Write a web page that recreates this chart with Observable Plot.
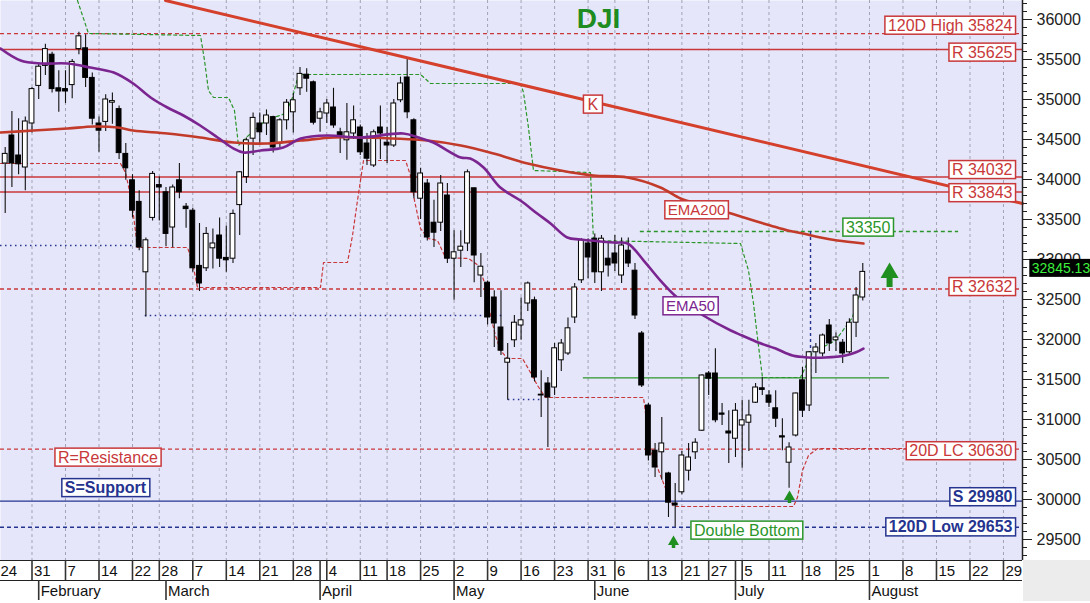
<!DOCTYPE html>
<html>
<head>
<meta charset="utf-8">
<script src="https://cdn.jsdelivr.net/npm/d3@7"></script>
<script src="https://cdn.jsdelivr.net/npm/@observablehq/plot@0.6"></script>
<style>
  html, body { margin: 0; padding: 0; background: #ffffff; }
  #chart svg { display: block; }
</style>
</head>
<body>
<div id="chart"></div>
<script>
// ================= DATA =================
// trading-day index: 0 = Mon Jan 24 2022; candles start at index 1
const firstIndex = 1;
const opens = [
34200,34550,34300,34150,34700,35170,35420,35560,35140,35130,
35180,35630,35640,35270,34700,34720,34960,34880,34320,33990,
33720,32840,33520,33930,33840,33400,33990,33660,33610,32920,
32890,33140,33300,33020,33010,33680,34030,34510,34700,34700,
34780,34450,34740,34840,35140,35310,35215,34760,34825,34900,
34590,34490,34575,34650,34450,34175,34650,34460,34425,34990,
35275,34740,33760,33950,33460,33460,33800,33010,33110,33200,
33890,32800,32710,32525,32150,31710,31990,32175,32450,32490,
31310,31450,31400,31740,31825,32275,32740,33200,33260,32840,
33010,33075,32800,33110,32860,32075,31175,30610,30590,30325,
29950,30090,30360,30590,30860,31575,31575,31075,30850,30760,
30925,30960,31210,31390,31300,31140,30790,30460,30800,31490,
31175,31840,31825,32175,31990,31960,31840,32210,32525];
const highs = [
34400,34850,34760,34780,35150,35450,35690,35590,35360,35360,
35500,35840,35810,35330,34780,35060,35080,34920,34450,34060,
33860,33270,34100,34030,33900,33930,34200,33700,33640,33450,
33400,33380,33520,33420,33620,34100,34520,34830,34830,34870,
34790,34760,35000,35075,35400,35385,35230,34890,35000,35140,
34640,34950,34920,34680,34575,34620,34920,34650,35000,35280,
35510,34760,34140,34000,33740,34050,33950,33360,33360,34120,
33890,33075,32730,32610,32610,31950,32300,32520,32720,32530,
31610,31525,31950,32000,32270,32700,33260,33260,33320,33300,
33220,33300,33270,33270,32950,32100,31200,30700,31025,30340,
30200,30600,30700,30760,31560,31600,31885,31200,31110,31200,
31240,31240,31450,31525,31360,31360,31010,30710,31330,31650,
31850,31950,32070,32250,32080,32000,32260,32650,32950];
const lows = [
33575,33900,34060,33860,34580,35000,35300,35080,34840,34950,
35010,35560,35150,34680,34340,34600,34690,34250,33990,33520,
33110,32280,33480,33480,33160,33150,33760,33390,32840,32600,
32850,32880,32900,32840,32950,33300,33950,34300,34450,34550,
34330,34400,34620,34580,35050,35090,34680,34590,34700,34640,
34325,34240,34500,34300,34175,34150,34250,34200,34400,34960,
34760,33760,33500,33230,33150,33350,32950,32490,32900,33100,
32710,32525,32180,31900,31800,31240,31900,31990,32350,31470,
31025,30650,31300,31600,31800,32200,32700,32760,32700,32600,
32780,32850,32700,32900,32250,31400,30480,30275,30240,29775,
29653,30060,30230,30500,30850,31300,30960,30925,30450,30525,
30390,30600,31200,31300,31150,30900,30610,30140,30780,31025,
31100,31575,31780,31850,31850,31700,31800,32025,32480];
const closes = [
34320,34200,34190,34725,35130,35410,35630,35130,35100,35100,
35470,35790,35270,34760,34610,35000,34980,34330,34140,33610,
33150,33240,34070,33900,33320,33900,33840,33630,32890,32700,
33320,33200,33010,32990,33570,34090,34490,34770,34590,34800,
34400,34740,34960,34990,35320,35260,34710,34840,34950,34675,
34550,34590,34740,34340,34260,34590,34575,34425,34950,35200,
34840,33840,34075,33275,33335,33950,33010,33090,33160,34090,
33050,32910,32275,32200,31860,31760,32210,32240,32700,31525,
31300,31275,31890,31950,32140,32650,33240,33025,32840,33260,
32925,32950,33175,32950,32300,31425,30550,30400,30700,29960,
29925,30550,30525,30710,31550,31510,30990,31060,30825,31110,
30990,31050,31400,31370,31210,31010,30775,30650,31325,31110,
31840,31900,32050,31950,32025,31825,32210,32550,32845.13];
const lastClose = closes[closes.length - 1];

// weekly date ticks (trading-day index) and their labels
const tickIdx = [0,5,10,15,20,24,29,34,39,44,49,54,58,63,68,73,78,83,88,92,97,102,106,111,115,120,125,130,135,140,145,150];
const tickLabels = ["24","31","7","14","22","28","7","14","21","28","4","11","18","25","2","9","16","23","31","6","13","21","27","5","11","18","25","1","8","15","22","29"];
const monthIdx = [6,25,48,68,89,110,130];
const monthNames = ["February","March","April","May","June","July","August"];
const monthBreakIdx = [48,110];

// moving averages
const ema50Idx = [0.3,3.3,6.3,10.3,13.7,17.2,20.1,22.7,25.2,27.6,30.1,32.7,35.1,36.6,39.1,42.5,45.1,49.1,54.0,60.4,62.7,64.9,69.0,70.4,72.4,74.9,77.9,80.4,82.4,84.9,86.9,91.8,93.9,96.3,98.8,101.3,105.2,109.3,111.0,113.4,116.0,118.5,120.9,123.4,126.4,127.9,129.1];
const ema50Val = [35637,35487,35450,35450,35400,35337,35200,35025,34900,34800,34675,34525,34387,34337,34362,34400,34512,34550,34525,34575,34525,34462,34275,34262,34150,33900,33737,33575,33450,33275,33250,33212,33200,32987,32737,32525,32300,32112,32050,31962,31887,31800,31775,31775,31800,31837,31887];
const ema200Idx = [0.3,5.2,10.3,14.2,17.8,20.1,25.2,30.1,35.1,40.1,45.1,50.0,54.0,64.0,69.0,73.9,79.0,83.9,88.8,93.9,98.8,101.8,104.5,107.8,110.3,112.7,115.2,117.8,120.1,122.7,125.2,129.1];
const ema200Val = [34587,34612,34637,34662,34650,34612,34575,34525,34462,34450,34487,34525,34525,34487,34425,34325,34200,34112,34050,34025,33900,33762,33690,33612,33550,33487,33425,33362,33325,33275,33237,33200];

// trend line "K"
const trendIdx = [24.93,152.84];
const trendVal = [36237.5,33700];

// 20-day high channel (green dashed) and low channel (red dashed)
const upperIdx = [11.79,13.43,30.15,30.75,31.34,32.09,34.33,35.22,35.82,37.31,39.85,42.84,43.88,44.78,62.99,64.48,77.91,78.36,79.10,79.85,88.36,88.81,110.75,111.94,112.69,113.28,114.03,119.70,121.49,124.93,127.46,128.96];
const upperVal = [36237.5,35825,35800,35487.5,35112.5,35025,35025,34862.5,34425,34550,34737.5,34825,35025,35312.5,35312.5,35200,35200,35087.5,34650,34112.5,34087.5,33237.5,33200,32862.5,32450,32025,31525,31525,31837.5,31987.5,32275,32700];
const lowerIdx = [0.30,18.21,18.96,19.70,20.15,20.75,28.21,28.96,29.70,48.06,48.51,52.09,52.84,53.58,54.48,60.75,61.49,62.09,62.99,64.18,65.52,66.72,70.15,71.64,72.69,73.43,74.18,74.93,75.97,78.21,79.40,80.45,81.64,96.27,96.72,97.16,98.06,99.10,100.00,100.75,118.66,119.25,120.00,120.90,122.24,135.67];
const lowerVal = [34200,34200,34087.5,33800,33550,33150,33150,32962.5,32650,32650,32962.5,32962.5,33300,33737.5,34237.5,34237.5,34050,33737.5,33387.5,33262.5,33237.5,33025,33012.5,32925,32675,32300,32050,31862.5,31762.5,31762.5,31587.5,31425,31275,31275,30987.5,30650,30462.5,30237.5,30050,29912.5,29912.5,30025,30362.5,30550,30637.5,30637.5];

// horizontal levels
const levelValues = [35824,35625,34032,33843,32632,30630,29980,29653];
const levelTexts = ["120D High 35824","R 35625","R 34032","R 33843","R 32632","20D LC 30630","S 29980","120D Low 29653"];
const levelKinds = ["R-dash","R","R","R","R-dash","R-dash","S","S-dash"];

// dotted lows
const dottedLowVal = [33175,32300,31250];
const dottedLowFrom = [0.3,21.9,76.1];
const dottedLowTo = [20.4,75.4,80.9];

// breakout line, target line and target marker
const breakoutLevel = 31520, breakoutFrom = 87.3, breakoutTo = 133.0;
const targetLevel = 33350, targetFrom = 95.8, targetTo = 143.3, targetIdx = 121.2;

// arrows (index, head value, base value)
const arrowIdx = [133.0,100.75,118.06];
const arrowTop = [32832.5,29471,30034];
const arrowBase = [32650,29387.5,29950];

// annotation texts and anchor points
const noteTexts = ["K","EMA200","EMA50","33350","Double Bottom","R=Resistance","S=Support"];
const noteIdx = [88.7,104.2,103.3,129.8,111.7,16.34,15.97];
const noteVal = [34937.5,33612.5,32412.5,33400,29612.5,30525,30143.75];
const title = "DJI";
const titleIdx = 89.55, titleVal = 36000;

// ================= BUILD =================
const FONT = "'Liberation Sans', Arial, Helvetica, sans-serif";
const RED = "#c8383a", BLUE = "#25348f", GREEN = "#2a962a", PURPLE = "#7b2590";
const X0 = 0.2985, X1 = 152.84, Y0 = 29237.5, Y1 = 36237.5;
const PX = (Y1 - Y0) / 560;           // value units per pixel (y)
const XP = (X1 - X0) / 1022;          // index units per pixel (x)

const candles = opens.map((o, k) => ({i: k + firstIndex, open: o, high: highs[k], low: lows[k], close: closes[k]}));
const ups = candles.filter(d => d.close >= d.open);
const downs = candles.filter(d => d.close < d.open);
const pts = (xs, ys) => xs.map((x, k) => ({i: x, v: ys[k]}));
const ema50 = pts(ema50Idx, ema50Val), ema200 = pts(ema200Idx, ema200Val);
const trend = pts(trendIdx, trendVal), upper = pts(upperIdx, upperVal), lower = pts(lowerIdx, lowerVal);
const levels = levelValues.map((v, k) => ({v, text: levelTexts[k], kind: levelKinds[k]}));
const dotted = dottedLowVal.map((v, k) => ({v, a: dottedLowFrom[k], b: dottedLowTo[k]}));
const ticks = tickIdx.map((i, k) => ({i, t: tickLabels[k]}));
const months = monthIdx.map((i, k) => ({i, t: monthNames[k]}));
const arrows = arrowIdx.map((i, k) => ({i, top: arrowTop[k], base: arrowBase[k]}));
const notes = noteTexts.map((t, k) => ({t, i: noteIdx[k], v: noteVal[k]}));

const labelX = 151.34;
const labelDy = {"120D High 35824": -8, "R 35625": 3, "R 34032": -7, "R 33843": 1, "R 32632": -2, "20D LC 30630": 2, "S 29980": -4, "120D Low 29653": 0};
const noteStyle = {
  "K": {fill: RED, size: 16, weight: "normal"},
  "EMA200": {fill: RED, size: 15, weight: "normal"},
  "EMA50": {fill: PURPLE, size: 15, weight: "normal"},
  "33350": {fill: GREEN, size: 16, weight: "normal"},
  "Double Bottom": {fill: GREEN, size: 16, weight: "normal"},
  "R=Resistance": {fill: RED, size: 16, weight: "normal"},
  "S=Support": {fill: BLUE, size: 16, weight: "bold"}
};

const yDayTop = Y0, yDayBot = Y0 - 20 * PX, yMonBot = Y0 - 40 * PX;

const marks = [
  Plot.frame({fill: "#e6e6fa", stroke: "none"}),
  Plot.ruleX(tickIdx, {stroke: "#a2a2b4", strokeDasharray: "3,3", strokeWidth: 1}),
  // horizontal levels
  Plot.ruleY(levels.filter(d => d.kind === "R"), {y: "v", stroke: RED, strokeWidth: 1.4}),
  Plot.ruleY(levels.filter(d => d.kind === "R-dash"), {y: "v", stroke: RED, strokeWidth: 1.4, strokeDasharray: "4,3"}),
  Plot.ruleY(levels.filter(d => d.kind === "S"), {y: "v", stroke: BLUE, strokeWidth: 1.4}),
  Plot.ruleY(levels.filter(d => d.kind === "S-dash"), {y: "v", stroke: BLUE, strokeWidth: 1.4, strokeDasharray: "4,3"}),
  Plot.ruleY(dotted, {y: "v", x1: "a", x2: "b", stroke: BLUE, strokeWidth: 1.5, strokeDasharray: "1.5,3.5"}),
  // channels
  Plot.line(upper, {x: "i", y: "v", stroke: GREEN, strokeWidth: 1.2, strokeDasharray: "3,3"}),
  Plot.line(lower, {x: "i", y: "v", stroke: RED, strokeWidth: 1.2, strokeDasharray: "3,3"}),
  // breakout / target
  Plot.ruleY([{v: breakoutLevel, a: breakoutFrom, b: breakoutTo}], {y: "v", x1: "a", x2: "b", stroke: GREEN, strokeWidth: 1.4}),
  Plot.ruleY([{v: targetLevel, a: targetFrom, b: targetTo}], {y: "v", x1: "a", x2: "b", stroke: GREEN, strokeWidth: 1.3, strokeDasharray: "4,3"}),
  Plot.ruleX([{i: targetIdx, a: targetLevel, b: breakoutLevel}], {x: "i", y1: "a", y2: "b", stroke: BLUE, strokeWidth: 1.4, strokeDasharray: "3,3"}),
  // candles
  Plot.ruleX(candles, {x: "i", y1: "low", y2: "high", stroke: "#111", strokeWidth: 1.1}),
  Plot.rect(ups, {x1: d => d.i - 0.36, x2: d => d.i + 0.36, y1: "open", y2: "close", fill: "#ffffff", stroke: "#000", strokeWidth: 1}),
  Plot.rect(downs, {x1: d => d.i - 0.36, x2: d => d.i + 0.36, y1: "open", y2: "close", fill: "#000000", stroke: "#000", strokeWidth: 1}),
  // trend line & moving averages
  Plot.line(trend, {x: "i", y: "v", stroke: "#d4402c", strokeWidth: 3}),
  Plot.line(ema200, {x: "i", y: "v", stroke: "#c23a2a", strokeWidth: 2.6, curve: "catmull-rom"}),
  Plot.line(ema50, {x: "i", y: "v", stroke: PURPLE, strokeWidth: 2.6, curve: "catmull-rom"}),
  // arrows
  Plot.ruleX(arrows.slice(0, 1), {x: "i", y1: "base", y2: "top", stroke: "#1f8f1f", strokeWidth: 6}),
  Plot.dot(arrows.slice(0, 1), {x: "i", y: "top", symbol: "triangle", r: 6.7, fill: "#1f8f1f", stroke: "none"}),
  Plot.ruleX(arrows.slice(1), {x: "i", y1: "base", y2: "top", stroke: "#1f8f1f", strokeWidth: 3.5}),
  Plot.dot(arrows.slice(1), {x: "i", y: "top", symbol: "triangle", r: 4.1, fill: "#1f8f1f", stroke: "none"}),
  // title
  Plot.text([title], {x: () => titleIdx, y: () => titleVal, text: d => d, fill: "#1e8c1e", fontSize: 28, fontWeight: "bold", textAnchor: "middle"}),
  // level labels
  ...levels.map(d => Plot.text([d], {x: () => labelX, y: "v", text: "text", dy: labelDy[d.text], textAnchor: "end",
      fill: d.kind.startsWith("S") ? BLUE : RED, fontSize: 16, fontWeight: d.kind.startsWith("S") ? "bold" : "normal"})),
  // notes
  ...notes.map(d => Plot.text([d], {x: "i", y: "v", text: "t", textAnchor: "middle",
      fill: noteStyle[d.t].fill, fontSize: noteStyle[d.t].size, fontWeight: noteStyle[d.t].weight})),
  // right axis
  Plot.ruleX([X1], {stroke: "#222", strokeWidth: 1.5}),
  Plot.axisY({anchor: "right", ticks: d3.range(29500, 36001, 500), tickSize: 9, tickPadding: 5, tickFormat: d => String(d), fontSize: 16, label: null}),
  Plot.axisY({anchor: "right", ticks: d3.range(29300, 36201, 100).filter(v => v % 500 !== 0), tickSize: 4, tickFormat: () => "", label: null}),
  // last price tag
  Plot.text([lastClose], {x: () => (1060.5 * XP + X0), y: () => lastClose + 3.5 * PX, text: d => d.toFixed(2), textAnchor: "middle", fill: "#3cf03c", fontSize: 14}),
  // date strip
  Plot.ruleY([yDayTop, yDayBot], {stroke: "#222", strokeWidth: 1.2}),
  Plot.ruleX(tickIdx, {y1: yDayTop, y2: yDayBot, stroke: "#333", strokeWidth: 1.6}),
  Plot.ruleX(monthBreakIdx, {y1: yDayTop, y2: yDayBot, stroke: "#333", strokeWidth: 1.6}),
  Plot.ruleX(monthIdx, {y1: yDayBot, y2: yMonBot, stroke: "#333", strokeWidth: 1.6}),
  Plot.text(ticks, {x: "i", y: () => Y0 - 10.5 * PX, text: "t", textAnchor: "start", dx: 2, fontSize: 15, fill: "#111"}),
  Plot.text(months, {x: "i", y: () => Y0 - 30.5 * PX, text: "t", textAnchor: "start", dx: 2, fontSize: 15, fill: "#111"}),
  Plot.rect([0], {x1: () => X1 + 1 * XP, x2: () => X1 + 70 * XP, y1: () => Y0, y2: () => Y0 - 41 * PX, fill: "#ececec"})
];

const svg = Plot.plot({
  width: 1090, height: 603,
  marginLeft: 0, marginRight: 68, marginTop: 0, marginBottom: 43,
  x: {type: "linear", domain: [X0, X1], axis: null, label: null},
  y: {type: "linear", domain: [Y0, Y1], label: null},
  style: {fontFamily: FONT, background: "#ffffff", overflow: "visible", color: "#222"},
  marks
});
document.getElementById("chart").appendChild(svg);

// ---- boxes behind the annotation texts ----
const boxes = new Map();
levels.forEach(d => boxes.set(d.text, {stroke: d.kind.startsWith("S") ? BLUE : RED, fill: "#fff", px: 3, py: 0.5}));
notes.forEach(d => boxes.set(d.t, {stroke: noteStyle[d.t].fill, fill: "#fff", px: d.t === "K" ? 4 : 3, py: 0.5}));
boxes.set(lastClose.toFixed(2), {stroke: "none", fill: "#000", px: 2.5, py: 1});
svg.querySelectorAll("text").forEach(t => {
  const st = boxes.get(t.textContent);
  if (!st) return;
  const bb = t.getBBox();
  const r = document.createElementNS("http://www.w3.org/2000/svg", "rect");
  r.setAttribute("x", bb.x - st.px);
  r.setAttribute("y", bb.y - st.py);
  r.setAttribute("width", bb.width + 2 * st.px);
  r.setAttribute("height", bb.height + 2 * st.py);
  r.setAttribute("fill", st.fill);
  r.setAttribute("stroke", st.stroke);
  r.setAttribute("stroke-width", 1.5);
  if (t.getAttribute("transform")) r.setAttribute("transform", t.getAttribute("transform"));
  t.parentNode.insertBefore(r, t);
});
</script>
</body>
</html>
